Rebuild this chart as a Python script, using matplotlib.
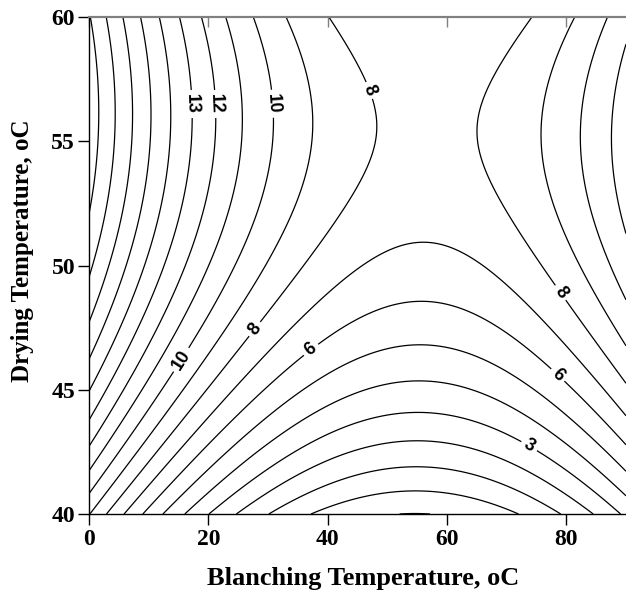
import matplotlib.pyplot as plt
import numpy as np

# quadratic response surface: b0 + b1*B + b2*D + b11*B^2 + b22*D^2 + b12*B*D
# B = blanching temperature, D = drying temperature
coef_names = ['b0', 'b1', 'b2', 'b11', 'b22', 'b12']
coef_vals = [-96.614, -0.33365, 4.1017, 0.00338, -0.0365, -0.000886]

blanch_range = [0, 90]
dry_range = [40, 60]
levels = list(range(-1, 19))
labelled = [3, 6, 8, 10, 12, 13]

x_ticks = [0, 20, 40, 60, 80]
y_ticks = [40, 45, 50, 55, 60]

# contour labels use a bold sans face
plt.rcParams['font.family'] = ['Liberation Sans', 'DejaVu Sans']
plt.rcParams['font.weight'] = 'bold'

c = dict(zip(coef_names, coef_vals))
bx = np.linspace(blanch_range[0], blanch_range[1], 400)
dy = np.linspace(dry_range[0], dry_range[1], 400)
B, D = np.meshgrid(bx, dy)
Z = (c['b0'] + c['b1'] * B + c['b2'] * D + c['b11'] * B**2
     + c['b22'] * D**2 + c['b12'] * B * D)

fig = plt.figure(figsize=(6.26, 5.90), dpi=100)
ax = fig.add_axes([89/626, 76/590, 537/626, 497/590])

plain = [v for v in levels if v not in labelled]
ax.contour(B, D, Z, levels=plain, colors='black', linewidths=0.9,
           negative_linestyles='solid')
cs = ax.contour(B, D, Z, levels=labelled, colors='black', linewidths=0.9)
label_pos = [(17.5, 56.5), (21.3, 56.5), (30.2, 56.5), (46.5, 57.0),
             (15.5, 46.2), (28.0, 47.4), (36.6, 46.8), (79.0, 48.9),
             (78.6, 45.6), (73.7, 42.7)]
ax.clabel(cs, manual=label_pos, fmt='%d', fontsize=13,
          inline=True, inline_spacing=4)

ax.set_xlim(blanch_range)
ax.set_ylim(dry_range)
ax.set_xticks(x_ticks)
ax.set_yticks(y_ticks)

tick_font = {'family': 'Liberation Serif', 'weight': 'bold', 'size': 17}
ax.set_xticklabels([str(v) for v in x_ticks], fontdict=tick_font)
ax.set_yticklabels([str(v) for v in y_ticks], fontdict=tick_font)
ax.tick_params(axis='both', direction='out', length=8, width=1, pad=3)
ax.tick_params(axis='y', pad=2)

ax.spines['right'].set_visible(False)
ax.spines['top'].set_color('#808080')
ax.spines['top'].set_linewidth(1.5)
ax.spines['left'].set_linewidth(1.0)
ax.spines['bottom'].set_linewidth(1.0)

# inward grey ticks along the top edge
top = ax.secondary_xaxis('top')
top.set_xticks(x_ticks)
top.tick_params(direction='in', length=7, width=1, color='#808080',
                labeltop=False)
top.spines['top'].set_color('#808080')
top.spines['top'].set_linewidth(1.5)

ax.set_xlabel('Blanching Temperature, oC', family='Liberation Serif',
              weight='bold', size=19)
ax.set_ylabel('Drying Temperature, oC', family='Liberation Serif',
              weight='bold', size=18)
ax.xaxis.set_label_coords(0.511, -0.129)
ax.xaxis.label.set_va('center')
ax.yaxis.set_label_coords(-0.123, 0.529)
ax.yaxis.label.set_va('center')

fig.savefig('out.png', dpi=100)
